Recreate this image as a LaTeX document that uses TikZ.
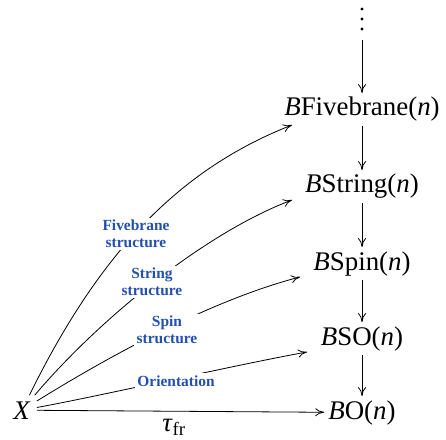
\documentclass[tikz,border=0pt]{standalone}
\usepackage{fontspec}
\setmainfont{Liberation Serif}
\usetikzlibrary{arrows.meta,calc}
\definecolor{lblue}{RGB}{35,80,175}
\begin{document}
\begin{tikzpicture}[x=1bp,y=-1bp,
  obj/.style={font=\fontsize{27}{30}\selectfont, inner sep=4bp, anchor=base},
  lbl/.style={font=\fontsize{15.5}{17}\selectfont\bfseries, text=lblue, align=center, fill=white, inner sep=2.5bp},
  arr/.style={line width=0.8bp, -{To[length=9bp,width=8bp]}},
  dot/.style={fill=black},
]
\useasboundingbox (0,0) rectangle (446,440);
% vertical dots
\fill[dot] (362,9) circle (1.6);
\fill[dot] (362,19) circle (1.6);
\fill[dot] (362,29) circle (1.6);
\coordinate (dotsbot) at (362,40);
% objects
\node[obj] (F)  at (362,116) {\textit{B}Fivebrane(\textit{n})};
\node[obj] (S)  at (362,193) {\textit{B}String(\textit{n})};
\node[obj] (Sp) at (362,270) {\textit{B}Spin(\textit{n})};
\node[obj] (SO) at (362,345) {\textit{B}SO(\textit{n})};
\node[obj] (BO) at (362,419) {\textit{B}O(\textit{n})};
\node[obj, inner sep=6bp] (X) at (22,419) {\textit{X}};
% vertical arrows
\draw[arr] (dotsbot) -- (F);
\draw[arr] (F) -- (S);
\draw[arr] (S) -- (Sp);
\draw[arr] (Sp) -- (SO);
\draw[arr] (SO) -- (BO);
% arrow tips
\coordinate (tF)  at (292,125);
\coordinate (tS)  at (292,200);
\coordinate (tSp) at (300,277);
\coordinate (tSO) at (307,352);
% curved arrows
\draw[arr] (X) .. controls (95,262) and (172,172) .. (tF);
\draw[arr] (X) .. controls (101,317) and (207,232) .. (tS);
\draw[arr] (X) .. controls (116,352) and (215,299) .. (tSp);
\draw[arr] (X) .. controls (100,396) and (240,364) .. (tSO);
\draw[arr] (X) -- (BO);
% labels
\node[lbl] (l1) at (136,234) {Fivebrane\\structure};
\node[lbl] (l2) at (152,282) {String\\structure};
\node[lbl] (l3) at (167,330) {Spin\\structure};
\node[lbl] (l4) at (176,381) {Orientation};
\node[obj, inner sep=0pt] (tau) at (174,431) {\textit{τ}\textsubscript{fr}};
\end{tikzpicture}
\end{document}
